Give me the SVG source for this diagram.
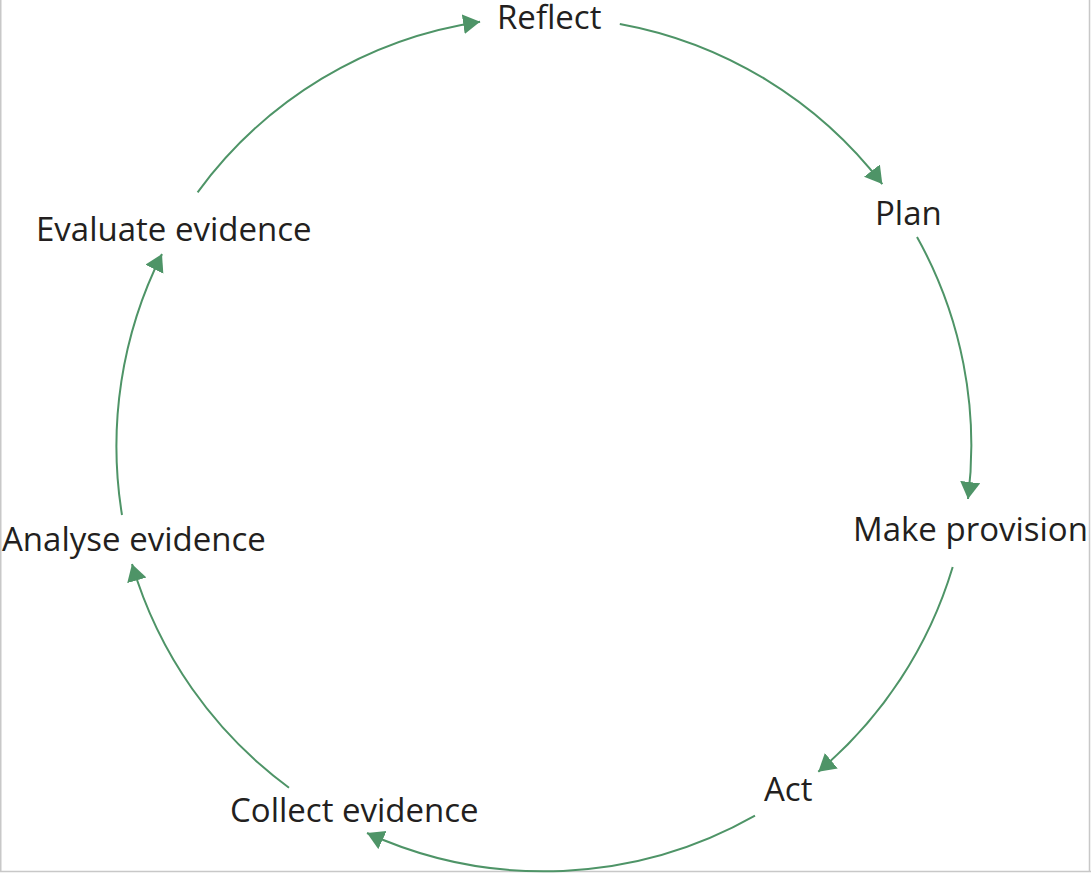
<svg xmlns="http://www.w3.org/2000/svg" width="1091" height="873" viewBox="0 0 1091 873">
<style>
.lbl{font-family:"Open Sans","Noto Sans","Liberation Sans",sans-serif;font-size:33px;fill:#231f20}
.arc{fill:none;stroke:#4e9467;stroke-width:2}
.frame{stroke:#c8c8c8;stroke-width:1.5;fill:none}
</style>
<defs>
<marker id="ah" markerUnits="userSpaceOnUse" markerWidth="18" markerHeight="21" refX="17" refY="10" orient="auto">
<path d="M0,0 L17,10 L0,20 z" fill="#4e9467"/>
</marker>
</defs>
<rect width="1091" height="873" fill="#ffffff"/>
<g id="frame">
<line class="frame" x1="0.75" y1="0" x2="0.75" y2="872"/>
<line class="frame" x1="1089.5" y1="0" x2="1089.5" y2="872"/>
<line class="frame" x1="0" y1="871.5" x2="1091" y2="871.5"/>
</g>
<g id="connectors">
<path class="arc" marker-end="url(#ah)" d="M197.6,192.3 A428,428 0 0,1 480.1,21.7"/>
<path class="arc" marker-end="url(#ah)" d="M619.8,23.9 A428,428 0 0,1 882.3,184.1"/>
<path class="arc" marker-end="url(#ah)" d="M917,237 A428,428 0 0,1 968,499"/>
<path class="arc" marker-end="url(#ah)" d="M952.7,567 A428,428 0 0,1 818.3,771.7"/>
<path class="arc" marker-end="url(#ah)" d="M755,815.7 A428,428 0 0,1 367,833"/>
<path class="arc" marker-end="url(#ah)" d="M289,787.7 A428,428 0 0,1 132,564"/>
<path class="arc" marker-end="url(#ah)" d="M122,515 A428,428 0 0,1 162,254"/>
</g>
<g id="reflect"><text class="lbl" x="497" y="29">Reflect</text></g>
<g id="plan"><text class="lbl" x="875" y="225">Plan</text></g>
<g id="make-provision"><text class="lbl" x="853" y="541">Make provision</text></g>
<g id="act"><text class="lbl" x="764" y="801">Act</text></g>
<g id="collect-evidence"><text class="lbl" x="230" y="822">Collect evidence</text></g>
<g id="analyse-evidence"><text class="lbl" x="2" y="551">Analyse evidence</text></g>
<g id="evaluate-evidence"><text class="lbl" x="36" y="241">Evaluate evidence</text></g>
</svg>
